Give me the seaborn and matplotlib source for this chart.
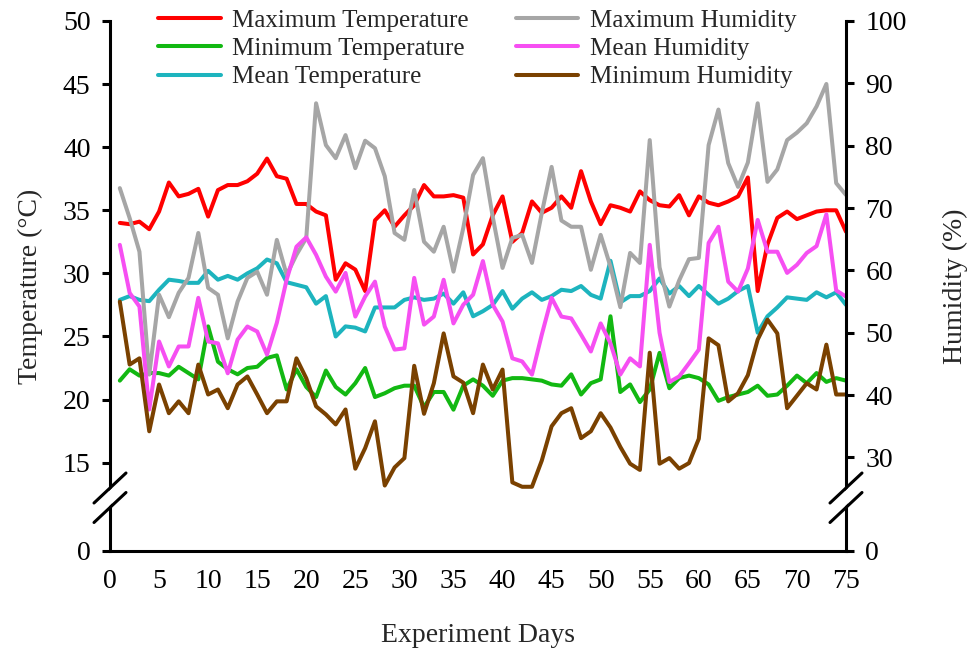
import numpy as np
import pandas as pd
import matplotlib
matplotlib.use("Agg")
import matplotlib.pyplot as plt
import seaborn as sns
from matplotlib.lines import Line2D
from matplotlib.patches import Polygon

# ---------------- data ----------------
days = list(range(1, 76))

max_temp = [34.0, 33.9, 34.1, 33.5, 34.9, 37.2, 36.1, 36.3, 36.7, 34.5,
            36.6, 37.0, 37.0, 37.3, 37.9, 39.1, 37.7, 37.5, 35.5, 35.5,
            34.9, 34.6, 29.5, 30.8, 30.3, 28.6, 34.2, 35.0, 33.7, 34.6,
            35.4, 37.0, 36.1, 36.1, 36.2, 36.0, 31.5, 32.3, 34.6, 36.1,
            32.5, 33.2, 35.7, 34.8, 35.2, 36.1, 35.2, 38.1, 35.7, 33.9,
            35.4, 35.2, 34.9, 36.5, 35.8, 35.4, 35.3, 36.2, 34.6, 36.1,
            35.6, 35.4, 35.7, 36.1, 37.6, 28.6, 32.3, 34.4, 34.9, 34.3,
            34.6, 34.9, 35.0, 35.0, 33.3]

min_temp = [21.5, 22.4, 21.9, 22.1, 22.1, 21.9, 22.6, 22.1, 21.6, 25.8,
            23.0, 22.4, 22.0, 22.5, 22.6, 23.3, 23.5, 20.8, 22.4, 21.0,
            20.2, 22.3, 21.0, 20.4, 21.3, 22.5, 20.2, 20.5, 20.9, 21.1,
            21.1, 19.4, 20.6, 20.6, 19.2, 21.1, 21.6, 21.1, 20.3, 21.5,
            21.7, 21.7, 21.6, 21.5, 21.2, 21.1, 22.0, 20.4, 21.3, 21.6,
            26.6, 20.6, 21.2, 19.8, 20.8, 23.7, 20.9, 21.7, 21.9, 21.7,
            21.2, 19.9, 20.2, 20.4, 20.6, 21.1, 20.3, 20.4, 21.1, 21.9,
            21.3, 22.1, 21.4, 21.7, 21.5]

mean_temp = [27.9, 28.2, 27.9, 27.8, 28.7, 29.5, 29.4, 29.25, 29.25, 30.2,
             29.5, 29.8, 29.5, 30.0, 30.4, 31.1, 30.8, 29.3, 29.1, 28.9,
             27.6, 28.2, 25.0, 25.8, 25.7, 25.4, 27.3, 27.3, 27.3, 27.9,
             28.1, 27.9, 28.0, 28.4, 27.6, 28.5, 26.6, 27.0, 27.5, 28.6,
             27.2, 28.0, 28.5, 27.9, 28.2, 28.7, 28.6, 29.0, 28.3, 28.0,
             31.0, 27.7, 28.2, 28.2, 28.6, 29.6, 28.4, 29.0, 28.2, 29.0,
             28.3, 27.6, 28.0, 28.6, 29.0, 25.3, 26.6, 27.3, 28.1, 28.0,
             27.9, 28.5, 28.1, 28.5, 27.5]

max_hum = [73.2, 68.4, 63.0, 43.3, 56.1, 52.5, 56.4, 58.8, 66.0, 57.2,
           56.1, 49.1, 55.0, 58.8, 59.8, 56.1, 64.9, 59.3, 62.5, 65.2,
           86.8, 80.1, 78.0, 81.7, 76.4, 80.8, 79.6, 75.1, 66.0, 64.9,
           72.9, 64.6, 63.0, 67.0, 59.8, 66.8, 75.3, 78.0, 68.6, 60.4,
           65.2, 65.7, 61.2, 69.2, 76.6, 68.0, 67.0, 67.0, 60.1, 65.7,
           60.6, 54.1, 62.8, 61.2, 80.9, 60.5, 54.2, 58.4, 61.8, 62.0,
           80.1, 85.8, 77.2, 73.4, 77.3, 86.8, 74.2, 76.2, 80.9, 82.1,
           83.6, 86.3, 89.9, 74.0, 72.1]

mean_hum = [64.1, 56.4, 54.2, 37.7, 48.6, 44.6, 47.8, 47.8, 55.6, 48.6,
            48.3, 43.5, 48.9, 51.0, 50.2, 46.5, 51.6, 58.5, 63.8, 65.3,
            62.5, 59.0, 56.6, 59.6, 52.6, 55.8, 58.2, 51.0, 47.3, 47.5,
            58.8, 51.3, 52.6, 58.5, 51.5, 54.5, 56.1, 61.5, 54.5, 51.8,
            45.9, 45.4, 43.3, 49.7, 55.6, 52.6, 52.3, 49.7, 47.0, 51.5,
            48.3, 43.3, 45.9, 44.6, 64.1, 50.0, 42.1, 43.0, 45.1, 47.3,
            64.4, 67.0, 58.2, 56.6, 60.3, 68.1, 63.0, 63.0, 59.6, 60.9,
            62.8, 63.9, 69.0, 56.8, 55.8]

min_hum = [55.0, 44.9, 45.9, 34.2, 41.7, 37.1, 39.0, 37.1, 44.9, 40.1,
           40.9, 37.9, 41.7, 43.0, 40.1, 37.1, 39.0, 39.0, 45.9, 42.7,
           38.2, 36.9, 35.3, 37.7, 28.2, 31.5, 35.8, 25.5, 28.4, 29.9,
           44.7, 37.0, 41.9, 49.9, 43.0, 42.0, 37.1, 44.9, 40.9, 44.1,
           26.0, 25.3, 25.3, 29.5, 35.0, 37.1, 37.9, 33.1, 34.2, 37.1,
           34.8, 31.7, 29.0, 28.0, 46.8, 29.0, 29.9, 28.2, 29.1, 33.0,
           49.1, 48.0, 39.0, 40.3, 43.2, 48.9, 52.1, 49.9, 37.9, 39.9,
           41.9, 40.9, 48.1, 40.1, 40.1]

temp_names = ["Maximum Temperature", "Minimum Temperature", "Mean Temperature"]
hum_names = ["Maximum Humidity", "Mean Humidity", "Minimum Humidity"]
temp_colors = ["#FF0000", "#12B812", "#1DB4BE"]
hum_colors = ["#A6A6A6", "#F64FF2", "#7A4100"]

temp_ticks = [15, 20, 25, 30, 35, 40, 45, 50]
hum_ticks = [30, 40, 50, 60, 70, 80, 90, 100]

# ---------------- figure ----------------
sns.set_theme(style="white")
plt.rcParams['font.family'] = ['Liberation Serif', 'DejaVu Serif']

W, H = 973, 657
fig = plt.figure(figsize=(W / 100, H / 100), dpi=100)
ax = fig.add_axes([110 / W, 1 - 551 / H, (846 - 110) / W, (551 - 21) / H])
ax2 = ax.twinx()

temp_df = pd.DataFrame({"day": days, temp_names[0]: max_temp,
                        temp_names[1]: min_temp, temp_names[2]: mean_temp})
hum_df = pd.DataFrame({"day": days, hum_names[0]: max_hum,
                       hum_names[1]: mean_hum, hum_names[2]: min_hum})

LW = 2.9
for name, col in zip(temp_names, temp_colors):
    sns.lineplot(data=temp_df, x="day", y=name, ax=ax, color=col, linewidth=LW,
                 label=name, legend=False, solid_joinstyle="round",
                 solid_capstyle="round")
for name, col in zip(hum_names, hum_colors):
    sns.lineplot(data=hum_df, x="day", y=name, ax=ax2, color=col, linewidth=LW,
                 label=name, legend=False, solid_joinstyle="round",
                 solid_capstyle="round")

# axis ranges with compressed (broken) lower part
T_BOT, H_BOT = 8.0, 15.0
ax.set_xlim(0, 75)
ax.set_ylim(T_BOT, 50)
ax2.set_ylim(H_BOT, 100)

ax.set_xticks(list(range(0, 76, 5)))
ax.set_xticklabels([str(v) for v in range(0, 76, 5)])
ax.set_yticks([T_BOT] + temp_ticks)
ax.set_yticklabels(["0"] + [str(v) for v in temp_ticks])
ax2.set_yticks([H_BOT] + hum_ticks)
ax2.set_yticklabels(["0"] + [str(v) for v in hum_ticks])

for a in (ax, ax2):
    a.set_xlabel("")
    a.set_ylabel("")
    a.grid(False)
    a.spines["top"].set_visible(False)
    for s in a.spines.values():
        s.set_color("black")
        s.set_linewidth(2.2)
ax.spines["right"].set_visible(False)
ax2.spines["left"].set_visible(False)
ax2.spines["bottom"].set_visible(False)

tick_kw = dict(direction="out", length=6, width=2.2, color="black",
               labelsize=20, labelcolor="black")
ax.tick_params(axis="x", pad=7, **tick_kw)
ax.tick_params(axis="y", left=True, pad=8, **tick_kw)
ax2.tick_params(axis="y", right=True, pad=8, **tick_kw)
ax.set_facecolor("white")
ax2.patch.set_visible(False)

# axis titles
fig.text(30 / W, 1 - 286 / H, "Temperature (°C)", rotation=90,
         ha="center", va="center", fontsize=20)
fig.text(955 / W, 1 - 286 / H, "Humidity (%)", rotation=90,
         ha="center", va="center", fontsize=20)
fig.text(478 / W, 1 - 636 / H, "Experiment Days",
         ha="center", va="center", fontsize=20)

# legend
handles = ax.get_lines() + ax2.get_lines()
labels = [h.get_label() for h in handles]
fig.legend(handles, labels, loc="upper left",
           bbox_to_anchor=(158 / W, 1 - 9 / H), ncol=2, frameon=False,
           fontsize=18, handlelength=2.5, handletextpad=0.45,
           columnspacing=1.9, labelspacing=0.24, borderpad=0,
           borderaxespad=0)

# axis break marks on both spines
def fx(px):
    return px / W

def fy(py):
    return 1 - py / H

for xc in (110, 846):
    mask = Polygon([(fx(xc - 6), fy(496)), (fx(xc + 6), fy(484)),
                    (fx(xc + 6), fy(499.5)), (fx(xc - 6), fy(511.5))],
                   closed=True, facecolor="white", edgecolor="none",
                   transform=fig.transFigure, zorder=5)
    fig.add_artist(mask)
    for yc in (488, 507.5):
        fig.add_artist(Line2D([fx(xc - 16), fx(xc + 16)],
                              [fy(yc + 15), fy(yc - 15)],
                              transform=fig.transFigure, color="black",
                              linewidth=2.2, zorder=6))

fig.savefig("out.png", dpi=100, facecolor="white")
